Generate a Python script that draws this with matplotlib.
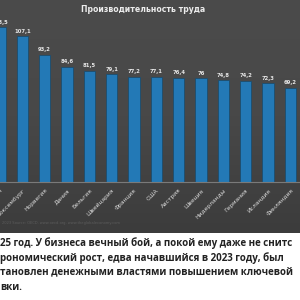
import numpy as np
import matplotlib
matplotlib.use('Agg')
import matplotlib.pyplot as plt

# data
countries = ['Ирландия', 'Люксембург', 'Норвегия', 'Дания', 'Бельгия', 'Швейцария',
             'Франция', 'США', 'Австрия', 'Швеция', 'Нидерланды', 'Германия',
             'Исландия', 'Финляндия']
values = [113.5, 107.1, 93.2, 84.6, 81.5, 79.1, 77.2, 77.1, 76.4, 76.0, 74.8, 74.2, 72.3, 69.2]
title = 'Производительность труда'
body_lines = ['25 год. У бизнеса вечный бой, а покой ему даже не снитс',
              'рономический рост, едва начавшийся в 2023 году, был',
              'тановлен денежными властями повышением ключевой',
              'вки.']

def fmt(v):
    s = ('%.1f' % v).rstrip('0').rstrip('.')
    return s.replace('.', ',')

fig = plt.figure(figsize=(3, 3), dpi=100)
fig.patch.set_facecolor('white')

# dark gradient background of the chart picture
bg = fig.add_axes([0, 1 - 233 / 300, 1, 233 / 300])
grad = np.linspace(0, 1, 256).reshape(-1, 1)
bg.imshow(grad, aspect='auto', cmap=matplotlib.colors.LinearSegmentedColormap.from_list(
    'g', ['#4b4b4b', '#484848', '#3c3c3c']), extent=[0, 1, 0, 1])
bg.axis('off')

ax = fig.add_axes([0, 1 - 182 / 300, 1, 182 / 300])
ax.set_facecolor('none')
x = np.arange(len(values))
ax.bar(x, values, width=0.5, color='#2379b6', edgecolor='#1c4d6e', linewidth=0.6)
for i, v in enumerate(values):
    ax.text(i, v + 1.8, fmt(v), ha='center', va='bottom', fontsize=3.8,
            color='#e6e6e6', weight='bold')
ax.set_xlim(0.04, 13.43)
ax.set_ylim(0, 133.5)
ax.set_yticks([])
ax.set_xticks(x)
ax.set_xticklabels(countries, rotation=45, ha='right', rotation_mode='anchor',
                   fontsize=4.3, color='#dcdcdc')
ax.tick_params(axis='x', length=0, pad=4)
for s in ['top', 'left', 'right']:
    ax.spines[s].set_visible(False)
ax.spines['bottom'].set_color('#7a7a7a')
ax.spines['bottom'].set_linewidth(0.8)

fig.text(0.477, 1 - 10 / 300, title, ha='center', va='center', fontsize=5.6,
         weight='bold', color='#ececec')
fig.text(0.005, 1 - 223 / 300, '2023 Source: OECD, www.oecd.org, www.theglobaleconomy.com',
         fontsize=2.6, color='#5c5c5c', va='center')

ys = [243, 258, 272.5, 287]
for t, y in zip(body_lines, ys):
    fig.text(0.0, 1 - y / 300, t, ha='left', va='center', fontsize=7.0,
             family='Open Sans', weight='bold', color='#222222')

fig.savefig('out.png', dpi=100)
